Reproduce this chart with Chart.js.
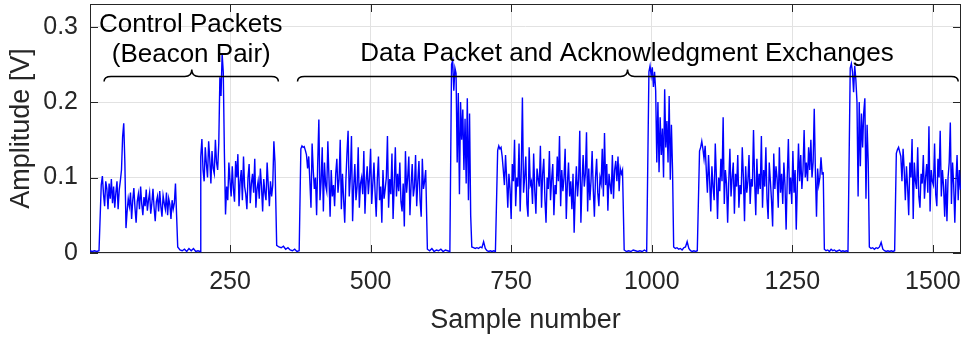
<!DOCTYPE html>
<html>
<head>
<meta charset="UTF-8">
<title>Packet exchange amplitude</title>
<style>
  body { margin: 0; background: #fff; }
  #wrap { width: 963px; height: 340px; }
</style>
</head>
<body>
<div id="wrap"><canvas id="trace" width="963" height="340"></canvas></div>

<script src="https://cdn.jsdelivr.net/npm/chart.js@4.4.1/dist/chart.umd.min.js"></script>
<script>
// amplitude readings in mV, one array per stretch of the capture
const gap0 = [3, 2, 3, 2, 3];
const beaconA = [90, 102, 78, 62, 95, 85, 58, 92, 72, 98, 66, 88, 60, 80, 95, 58, 84, 96, 110, 154,
  172, 120, 33,
  55, 72, 62, 80, 45, 70, 86, 60, 40, 68, 78, 58, 88, 65, 50, 74, 62, 84, 56, 70,
  80, 52, 66, 85, 60, 42, 68, 75, 55, 82, 62, 48, 76, 66, 58, 80, 50, 72, 64, 45,
  70, 58, 66, 92, 50];
const gap1 = [8, 4, 3, 5, 2, 6, 3, 6, 2, 3, 2];
const beaconB = [128, 151, 110, 95, 140, 118, 100, 148, 125, 92, 135, 112, 105, 150, 120, 110, 145, 233, 208, 264,
  240, 133, 51,
  88, 70, 120, 95, 75, 115, 85, 68, 122, 100, 131, 62, 95, 110, 70, 128, 88, 78, 58, 100,
  118, 66, 92, 105, 80, 125, 60, 85, 95, 72, 112, 88, 55, 98, 80, 70, 120, 90, 62, 95,
  75, 90, 148, 120];
const gap2 = [10, 8, 7, 9, 5, 7, 4, 3, 5, 2, 3];
const dataPkt1 = [138, 142, 140, 141, 136, 130, 112, 128, 95, 60, 145, 110, 85, 100, 50, 120, 177, 70, 95, 140,
  55, 120, 90, 82, 148, 100, 48, 110, 75, 90, 62, 105, 125, 80, 98, 150, 58, 105, 72, 40,
  95, 132, 162, 75, 100, 155, 42, 88, 118, 70, 88, 140, 60, 92, 100, 78, 135, 52, 95, 115,
  78, 100, 138, 65, 92, 120, 80, 48, 98, 128, 70, 88, 40, 110, 72, 85, 100, 155, 60, 98,
  78, 132, 45, 90, 140, 75, 105, 82, 120, 68, 55, 92, 35, 135, 80, 100, 128, 50, 90, 118,
  75, 88, 130, 62, 95, 122, 70, 48, 125, 85, 95, 110];
const gap3 = [5, 3, 6, 2, 4, 3, 5, 2, 4, 3, 2];
const ack1 = [250, 255, 215, 245, 238, 120, 212, 78, 200, 150, 190, 110, 178, 92, 205, 70, 185, 50];
const gap4 = [8, 7, 6, 7, 6, 8, 7, 15, 6, 3, 2, 3, 2, 3, 2];
const dataPkt2 = [136, 142, 138, 140, 128, 110, 90, 130, 98, 60, 105, 85, 45, 118, 95, 150, 62, 100, 88, 145,
  55, 110, 206, 80, 100, 128, 65, 48, 140, 90, 95, 65, 132, 82, 52, 112, 98, 88, 142, 60,
  105, 125, 72, 40, 100, 85, 135, 70, 98, 118, 50, 90, 78, 128, 95, 155, 62, 110, 82, 100,
  138, 45, 92, 120, 75, 95, 58, 105, 27, 80, 115, 75, 98, 162, 40, 92, 130, 88, 105, 160,
  55, 112, 70, 95, 135, 85, 48, 100, 125, 80, 62, 100, 92, 138, 75, 159, 90, 118, 56, 105,
  90, 78, 130, 72, 110, 122, 95, 128, 82, 112, 105, 110];
const gap5 = [4, 2, 3, 2, 4, 3, 2, 3, 2, 4, 2];
const ack2 = [240, 248, 235, 246, 220, 240, 215, 120, 200, 107, 180, 130, 165, 100, 217, 140, 175, 120, 208, 97, 170, 110];
const gap6 = [8, 6, 7, 5, 6, 4, 7, 8, 15, 6, 3, 2, 3, 2, 3];
const dataPkt3 = [135, 140, 148, 138, 125, 142, 110, 80, 130, 95, 55, 115, 88, 70, 145, 100, 45, 100, 82, 125,
  95, 180, 65, 110, 92, 40, 95, 138, 75, 100, 120, 52, 105, 88, 130, 60, 90, 78, 140, 100,
  42, 115, 80, 95, 130, 65, 98, 88, 163, 95, 50, 125, 78, 105, 85, 155, 60, 110, 88, 140,
  72, 45, 120, 95, 70, 35, 132, 85, 115, 98, 60, 140, 80, 105, 65, 120, 90, 31, 100, 151,
  78, 100, 65, 135, 80, 110, 31, 92, 145, 95, 130, 85, 110, 163, 100, 120, 95, 140, 110, 150,
  100, 120, 191, 110, 48, 112, 90, 100, 127, 105, 106];
const gap7 = [5, 3, 4, 2, 5, 3, 4, 2, 3, 4, 2, 3, 2, 3, 2];
const ack3 = [245, 251, 240, 213, 248, 230, 200, 75, 200, 115, 185, 140, 186, 205, 72, 170, 120];
const gap8 = [8, 6, 7, 5, 7, 6, 8, 14, 5, 3, 2, 3, 2, 3, 2, 3];
const dataPkt4 = [132, 137, 140, 134, 128, 95, 138, 110, 70, 115, 88, 50, 120, 100, 151, 45, 120, 95, 85, 140,
  75, 60, 105, 92, 130, 72, 100, 118, 80, 168, 55, 110, 95, 90, 145, 78, 62, 125, 100, 162,
  75, 110, 88, 48, 98, 42, 100, 120, 173, 65, 120, 90, 40, 95, 130, 70, 110, 84];

// [first sample, sample step, readings]
const stretches = [
  [1, 4, gap0], [21, 2, beaconA], [157, 4, gap1], [198, 2, beaconB], [333, 4, gap2],
  [376, 2, dataPkt1], [601, 4, gap3], [644, 2, ack1], [680, 3, gap4], [726, 2, dataPkt2],
  [951, 4, gap5], [995, 2, ack2], [1039, 3, gap6], [1085, 2, dataPkt3], [1307, 3, gap7],
  [1353, 2, ack3], [1387, 3, gap8], [1435, 2, dataPkt4]
];

const xTickValues = [250, 500, 750, 1000, 1250, 1500];
const yTickValues = [0, 0.1, 0.2, 0.3];
const yTickLabels = ['0', '0.1', '0.2', '0.3'];

// braces over the packet groups: [from sample, to sample, tip sample, level in V]
const braces = [[26, 336, 182, 0.234], [370, 1545, 957, 0.234]];
// text notes: [text, centre sample, baseline in V]
const notes = [
  ['Control Packets', 180, 0.293],
  ['(Beacon Pair)', 181, 0.253],
  ['Data Packet and Acknowledgment Exchanges', 956, 0.255]
];

const points = [];
stretches.forEach(([start, step, mv]) => {
  mv.forEach((v, i) => points.push({ x: start + i * step, y: v / 1000 }));
});

const FONT = "'Liberation Sans', Arial, sans-serif";
const AXIS_COLOR = '#262626';

// keep the plot box fixed: no extra room for the end labels
function fixBox(s, size) {
  if (s.isHorizontal()) s.height = size; else s.width = size;
  s.paddingTop = 0; s.paddingBottom = 0; s.paddingLeft = 0; s.paddingRight = 0;
}

// MATLAB-like box with inward tick marks
const axesBox = {
  id: 'axesBox',
  beforeDatasetsDraw(chart) {
    const { ctx, chartArea: a, scales: { x, y } } = chart;
    const len = 8;
    ctx.save();
    ctx.strokeStyle = AXIS_COLOR;
    ctx.lineWidth = 1;
    ctx.strokeRect(a.left + 0.5, a.top + 0.5, a.right - a.left - 1, a.bottom - a.top - 1);
    ctx.beginPath();
    xTickValues.forEach(v => {
      const px = Math.round(x.getPixelForValue(v)) + 0.5;
      ctx.moveTo(px, a.bottom); ctx.lineTo(px, a.bottom - len);
      ctx.moveTo(px, a.top); ctx.lineTo(px, a.top + len);
    });
    yTickValues.forEach(v => {
      const py = Math.round(y.getPixelForValue(v)) + 0.5;
      ctx.moveTo(a.left, py); ctx.lineTo(a.left + len, py);
      ctx.moveTo(a.right, py); ctx.lineTo(a.right - len, py);
    });
    ctx.stroke();
    ctx.restore();
  }
};

function drawBrace(ctx, x1, x2, tip, yy) {
  const r = 7, drop = 5, rise = 7;
  ctx.beginPath();
  ctx.moveTo(x1, yy + drop);
  ctx.quadraticCurveTo(x1, yy, x1 + r, yy);
  ctx.lineTo(tip - r, yy);
  ctx.quadraticCurveTo(tip, yy, tip, yy - rise);
  ctx.quadraticCurveTo(tip, yy, tip + r, yy);
  ctx.lineTo(x2 - r, yy);
  ctx.quadraticCurveTo(x2, yy, x2, yy + drop);
  ctx.stroke();
}

const annotations = {
  id: 'annotations',
  afterDraw(chart) {
    const { ctx, scales: { x, y } } = chart;
    ctx.save();
    ctx.strokeStyle = '#000';
    ctx.lineWidth = 1.5;
    braces.forEach(([s1, s2, st, v]) => {
      drawBrace(ctx, x.getPixelForValue(s1), x.getPixelForValue(s2), x.getPixelForValue(st), y.getPixelForValue(v));
    });
    ctx.fillStyle = '#000';
    ctx.font = '26px ' + FONT;
    ctx.textAlign = 'center';
    ctx.textBaseline = 'alphabetic';
    notes.forEach(([text, s, v]) => ctx.fillText(text, x.getPixelForValue(s), y.getPixelForValue(v)));
    ctx.restore();
  }
};

new Chart(document.getElementById('trace'), {
  type: 'line',
  data: {
    datasets: [{
      data: points,
      borderColor: '#0000ff',
      borderWidth: 1.4,
      pointRadius: 0,
      tension: 0,
      fill: false
    }]
  },
  options: {
    responsive: false,
    animation: false,
    events: [],
    layout: { padding: { top: 4, right: 2, left: 0, bottom: 0 } },
    plugins: { legend: { display: false }, tooltip: { enabled: false } },
    scales: {
      x: {
        type: 'linear',
        min: 1,
        max: 1550,
        afterBuildTicks: s => { s.ticks = xTickValues.map(v => ({ value: v })); },
        afterFit: s => fixBox(s, 87),
        grid: { color: '#e2e2e2', drawTicks: false },
        border: { display: false },
        ticks: {
          autoSkip: false, maxRotation: 0, padding: 14,
          color: AXIS_COLOR, font: { family: FONT, size: 25 },
          callback: v => String(v)
        },
        title: {
          display: true, text: 'Sample number', color: AXIS_COLOR,
          font: { family: FONT, size: 27 }, padding: { top: 0, bottom: 3 }
        }
      },
      y: {
        min: 0,
        max: 0.33,
        afterBuildTicks: s => { s.ticks = yTickValues.map(v => ({ value: v })); },
        afterFit: s => fixBox(s, 90),
        grid: { color: '#e2e2e2', drawTicks: false },
        border: { display: false },
        ticks: {
          autoSkip: false, padding: 12,
          color: AXIS_COLOR, font: { family: FONT, size: 25 },
          callback: v => yTickLabels[yTickValues.indexOf(v)]
        },
        title: {
          display: true, text: 'Amplitude [V]', color: AXIS_COLOR,
          font: { family: FONT, size: 27 }, padding: { top: 5, bottom: 0 }
        }
      }
    }
  },
  plugins: [axesBox, annotations]
});
</script>
</body>
</html>
